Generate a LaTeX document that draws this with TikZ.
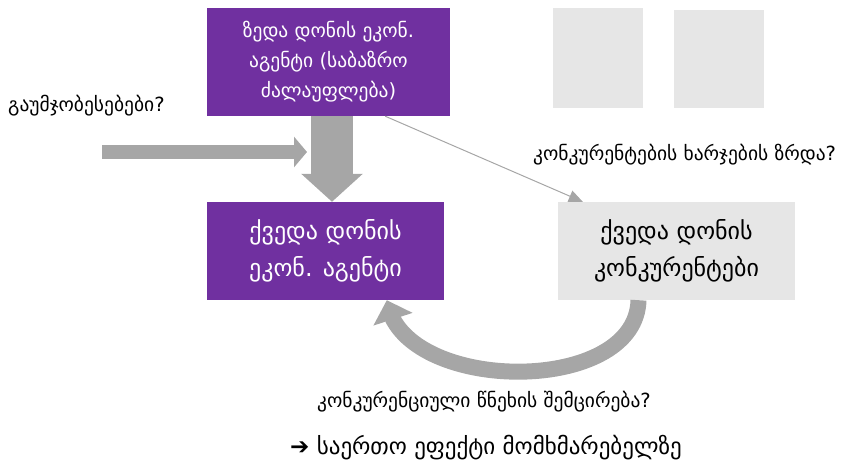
\documentclass[tikz,border=0pt]{standalone}
\usepackage{fontspec}
\setmainfont{DejaVu Sans}
\usepackage{xcolor}
\usetikzlibrary{arrows.meta,bending}
\definecolor{agentpurple}{HTML}{7030A0}
\definecolor{boxgray}{HTML}{E6E6E6}
\definecolor{arrowgray}{HTML}{A6A6A6}
\begin{document}
\begin{tikzpicture}[x=1pt,y=-1pt,
	agentbox/.style={rectangle, fill=agentpurple, text=white, align=center, inner sep=0pt},
	compbox/.style={rectangle, fill=boxgray, align=center, inner sep=0pt},
	qlabel/.style={font=\fontsize{19.5}{22}\selectfont, inner sep=0pt},
	bigarrow/.style={arrowgray, line width=42pt, -{Triangle[width=60pt,length=28pt]}},
	thinarrow/.style={arrowgray, line width=1pt, -{Triangle[width=12pt,length=14pt]}}]
	\useasboundingbox (0,0) rectangle (846,468);
	% boxes
	\node[agentbox, minimum width=243pt, minimum height=108pt, font=\fontsize{19.5}{30}\selectfont] (upper) at (328.5,62) {ზედა დონის ეკონ.\\აგენტი (საბაზრო\\ძალაუფლება)};
	\node[compbox, minimum width=90pt, minimum height=100pt] (sqa) at (598,58) {};
	\node[compbox, minimum width=90pt, minimum height=98pt] (sqb) at (719,59) {};
	\node[agentbox, minimum width=237pt, minimum height=98pt, font=\fontsize{24}{37}\selectfont] (lower) at (325.5,251) {ქვედა დონის\\ეკონ. აგენტი};
	\node[compbox, minimum width=237pt, minimum height=98pt, font=\fontsize{24}{37}\selectfont] (comp) at (676.5,251) {ქვედა დონის\\კონკურენტები};
	% labels
	\node[qlabel, anchor=west] (impr) at (8,106) {გაუმჯობესებები?};
	\node[qlabel, anchor=west] (cost) at (533,155) {კონკურენტების ხარჯების ზრდა?};
	\node[qlabel] (press) at (484,402) {კონკურენციული წნეხის შემცირება?};
	\node[font=\fontsize{23}{26}\selectfont, inner sep=0pt] (effect) at (486,448) {{\bfseries ➔} საერთო ეფექტი მომხმარებელზე};
	% arrows
	\coordinate (imprtail) at (102,152);
	\coordinate (imprtip) at (307,152);
	\draw[arrowgray, line width=14pt, -{Triangle[width=30pt,length=13pt]}] (imprtail) -- (imprtip);
	\draw[bigarrow] ([xshift=3.5pt]upper.south) -- ([xshift=6.5pt]lower.north);
	\draw[thinarrow] ([xshift=-65pt]upper.south east) -- ([xshift=25pt]comp.north west);
	\draw[arrowgray, line width=16pt, -{Triangle[width=40pt,length=20pt,flex]}] ([xshift=-38pt]comp.south) .. controls (636,397) and (400,394) .. ([xshift=180pt]lower.south west);
\end{tikzpicture}
\end{document}
